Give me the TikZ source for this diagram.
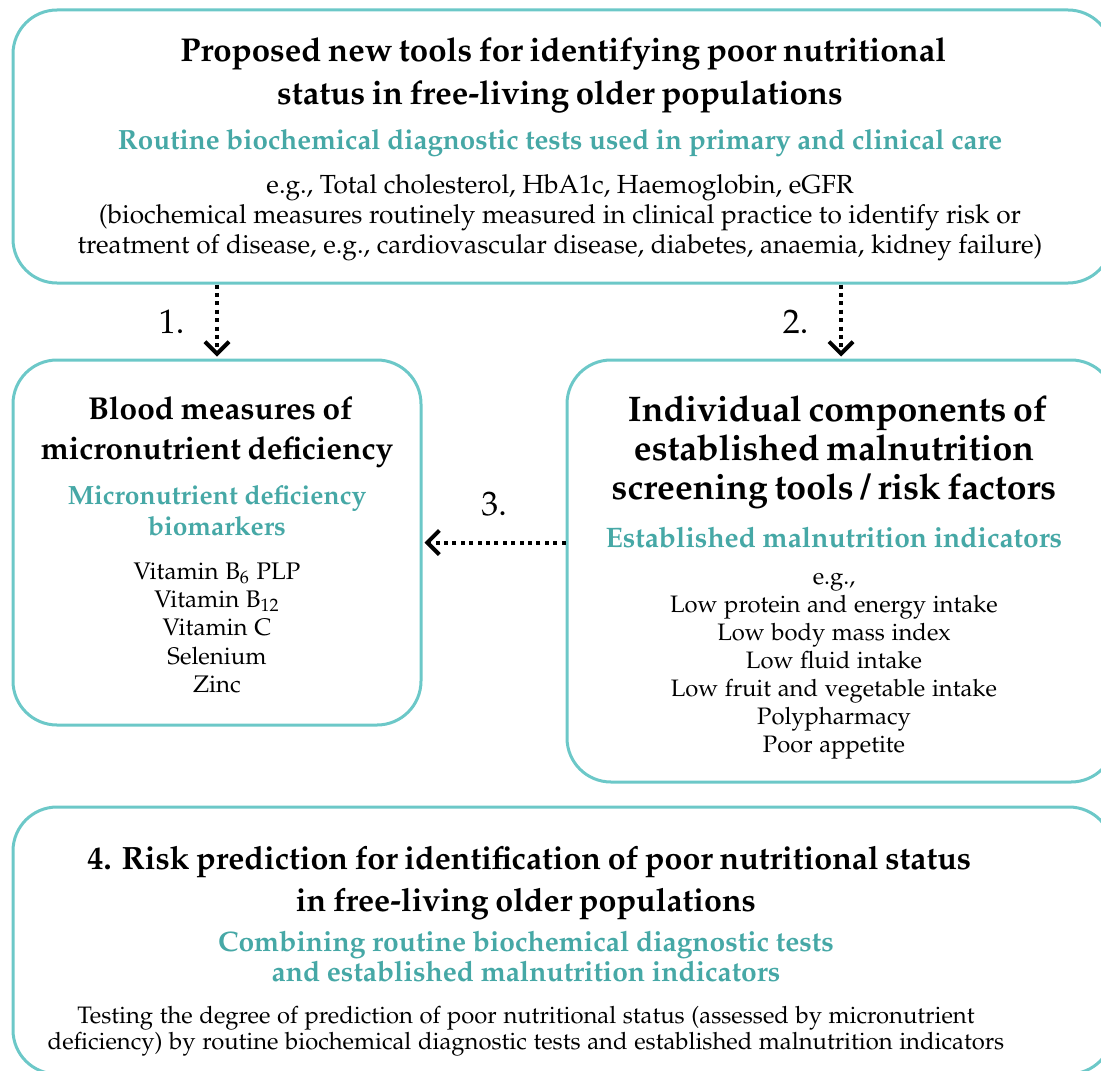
\documentclass[tikz,border=0pt]{standalone}
\usepackage[T1]{fontenc}
\usepackage{mathpazo}
\usepackage{tikz}
\usetikzlibrary{arrows.meta}

\definecolor{tealline}{RGB}{108,200,200}
\definecolor{tealtext}{RGB}{70,168,166}

% font size, leading
\newcommand{\headfont}[2]{\fontsize{#1}{#2}\selectfont\bfseries}
\newcommand{\subfont}[2]{\fontsize{#1}{#2}\selectfont\bfseries\color{tealtext}}
\newcommand{\bodyfont}[2]{\fontsize{#1}{#2}\selectfont}

\begin{document}
\begin{tikzpicture}[
            x = 0.5pt, y = -0.5pt, % one unit per pixel of the figure
            > = {Straight Barb[length=6pt, width=12pt]}, % open arrow head
            shorten > = 1pt, % don't touch arrow head to box
            semithick
        ]

        \tikzstyle{box}=[
            draw = tealline,
            line width = 1.5pt,
            rounded corners = 22pt,
            inner sep = 0pt
        ]
        \tikzstyle{txt}=[align = center, inner sep = 0pt]
        \tikzstyle{flow}=[->, black, line width = 2pt, dash pattern = on 2pt off 2.2pt]
        \tikzstyle{num}=[font = \fontsize{17}{19}\selectfont]

        \useasboundingbox (0,0) rectangle (1101,1070);
        \clip (0,0) rectangle (1101,1070);

	% boxes
	\node[box, minimum width = 549.5pt, minimum height = 136.5pt] (tools) at (562.5,146.5) {};
	\node[box, minimum width = 204pt, minimum height = 182.5pt] (blood) at (217,542.5) {};
	\node[box, minimum width = 274pt, minimum height = 211pt] (screen) at (841,571) {};
	\node[box, minimum width = 550pt, minimum height = 133.5pt] (risk) at (563,940.5) {};

	% texts
	\node[txt, text width = 540pt] (tools text) at (560,149) {
	    {\headfont{16.5}{21.5} Proposed new tools for identifying poor nutritional\\ status in free-living older populations\par}
	    \vspace{6.5pt}
	    {\subfont{13.9}{16} Routine biochemical diagnostic tests used in primary and clinical care\par}
	    \vspace{7pt}
	    {\bodyfont{13.1}{15} e.g., Total cholesterol, HbA1c, Haemoglobin, eGFR\\
	    (biochemical measures routinely measured in clinical practice to identify risk or\\
	    treatment of disease, e.g., cardiovascular disease, diabetes, anaemia, kidney failure)\par}};
	\node[txt, text width = 195pt] (blood text) at (217,545) {
	    {\headfont{15.8}{20} Blood measures of\\ micronutrient deficiency\par}
	    \vspace{7pt}
	    {\subfont{13.2}{15.5} Micronutrient deficiency\\ biomarkers\par}
	    \vspace{7.5pt}
	    {\bodyfont{12}{14.2} Vitamin B$_6$ PLP\\ Vitamin B$_{12}$\\ Vitamin C\\ Selenium\\ Zinc\par}};
	\node[txt, text width = 265pt] (screen text) at (834,577) {
	    {\headfont{17.8}{19.5} Individual components of\\ established malnutrition\\ screening tools / risk factors\par}
	    \vspace{8pt}
	    {\subfont{14.1}{16} Established malnutrition indicators\par}
	    \vspace{4.5pt}
	    {\bodyfont{11.9}{14} e.g.,\\ Low protein and energy intake\\ Low body mass index\\ Low fluid intake\\
	    Low fruit and vegetable intake\\ Polypharmacy\\ Poor appetite\par}};
	\node[txt, text width = 520pt] (risk text) at (526,951) {
	    {\headfont{16.1}{21} 4. Risk prediction for identification of poor nutritional status\\ in free-living older populations\par}
	    \vspace{5pt}
	    {\subfont{14.1}{15} Combining routine biochemical diagnostic tests\\ and established malnutrition indicators\par}
	    \vspace{8pt}
	    {\bodyfont{11.9}{13} Testing the degree of prediction of poor nutritional status (assessed by micronutrient\\
	    deficiency) by routine biochemical diagnostic tests and established malnutrition indicators\par}};

	% arrows
	\draw[flow] (tools.south -| blood.north) -- node[num, left = 12pt] {1.} (blood.north);
	\draw[flow] (tools.south -| screen.north) -- node[num, left = 12pt] {2.} (screen.north);
	\draw[flow] (screen.west |- blood.east) -- node[num, above = 9pt] {3.} (blood.east);

    \end{tikzpicture}
\end{document}
